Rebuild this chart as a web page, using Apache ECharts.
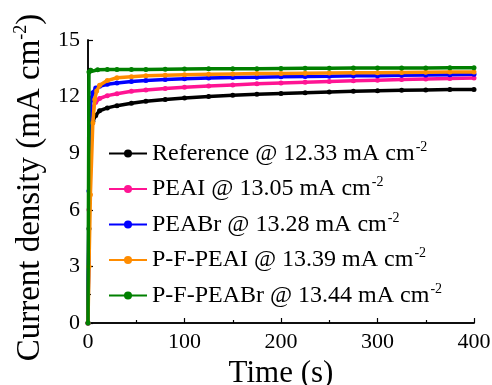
<!DOCTYPE html>
<html><head><meta charset="utf-8">
<script src="https://cdn.jsdelivr.net/npm/echarts@6/dist/echarts.min.js"></script>
<style>html,body{margin:0;padding:0;background:#fff}#c{width:492px;height:385px}</style>
</head><body><div id="c"></div>
<script>
const seriesNames = ['Reference @ 12.33 mA cm', 'PEAI @ 13.05 mA cm', 'PEABr @ 13.28 mA cm', 'P-F-PEAI @ 13.39 mA cm', 'P-F-PEABr @ 13.44 mA cm'];
const colors = ['#000000', '#ff1493', '#0000ff', '#ff8c00', '#008000'];
const xTicks = [0, 100, 200, 300, 400];
const yTicks = [0, 3, 6, 9, 12, 15];

const refT = [0, 1, 2, 3, 5, 8, 12, 20, 30, 45, 60, 80, 100, 125, 150, 175, 200, 225, 250, 275, 300, 325, 350, 375, 400];
const refV = [0, 5, 9.6, 10.3, 10.7, 11.0, 11.25, 11.4, 11.52, 11.65, 11.75, 11.85, 11.93, 12.0, 12.07, 12.12, 12.17, 12.21, 12.25, 12.28, 12.31, 12.33, 12.35, 12.37, 12.38];
const peaiT = [0, 1, 2, 3, 5, 8, 12, 20, 30, 45, 60, 80, 100, 125, 150, 175, 200, 225, 250, 275, 300, 325, 350, 375, 400];
const peaiV = [0, 6, 10.5, 11.0, 11.4, 11.7, 11.9, 12.05, 12.15, 12.28, 12.35, 12.43, 12.5, 12.56, 12.62, 12.68, 12.72, 12.76, 12.8, 12.84, 12.87, 12.9, 12.93, 12.96, 12.98];
const peabrT = [0, 1, 2, 3, 5, 8, 12, 20, 30, 45, 60, 80, 100, 125, 150, 175, 200, 225, 250, 275, 300, 325, 350, 375, 400];
const peabrV = [0, 7, 11.0, 11.8, 12.2, 12.45, 12.55, 12.65, 12.72, 12.8, 12.85, 12.9, 12.94, 12.98, 13.01, 13.03, 13.05, 13.07, 13.08, 13.1, 13.11, 13.13, 13.14, 13.16, 13.18];
const pfpeaiT = [0, 1, 2.5, 5, 7, 9, 12, 20, 30, 45, 60, 80, 100, 125, 150, 175, 200, 225, 250, 275, 300, 325, 350, 375, 400];
const pfpeaiV = [0, 3, 6.8, 10.6, 11.85, 12.3, 12.6, 12.85, 13.0, 13.05, 13.1, 13.13, 13.16, 13.18, 13.2, 13.22, 13.23, 13.24, 13.25, 13.26, 13.27, 13.28, 13.29, 13.3, 13.3];
const pfpeabrT = [0, 1, 3, 10, 20, 30, 45, 60, 80, 100, 125, 150, 175, 200, 225, 250, 275, 300, 325, 350, 375, 400];
const pfpeabrV = [0, 13.3, 13.4, 13.42, 13.43, 13.43, 13.44, 13.44, 13.45, 13.46, 13.47, 13.47, 13.48, 13.49, 13.5, 13.5, 13.51, 13.51, 13.52, 13.52, 13.53, 13.53];

const allT = [refT, peaiT, peabrT, pfpeaiT, pfpeabrT];
const allV = [refV, peaiV, peabrV, pfpeaiV, pfpeabrV];

const FONT = '"Liberation Serif", "Times New Roman", serif';
const chart = echarts.init(document.getElementById('c'));
const series = seriesNames.map((n, i) => ({
  name: n, type: 'line', z: 2 + i,
  data: allT[i].map((t, k) => [t, allV[i][k]]),
  symbol: 'circle', symbolSize: 5, showSymbol: true,
  lineStyle: { color: colors[i], width: 3.5 },
  itemStyle: { color: colors[i], borderColor: colors[i], borderWidth: 0 }
}));
const axisCommon = {
  axisLine: { show: true, onZero: false, lineStyle: { color: '#000', width: 1.5 } },
  splitLine: { show: false },
  axisTick: { show: true, inside: true, length: 5, lineStyle: { color: '#000', width: 1.2 } },
  minorTick: { show: true, splitNumber: 2, length: 3, lineStyle: { color: '#000', width: 1.2 } },
  axisLabel: { color: '#000', fontFamily: FONT, fontSize: 22 }
};
chart.setOption({
  animation: false,
  grid: { left: 88, right: 18, top: 40, bottom: 62, containLabel: false, outerBoundsMode: 'none' },
  legend: {
    orient: 'vertical', left: 103, top: 135, itemGap: 10,
    itemWidth: 38, itemHeight: 10,
    data: seriesNames,
    formatter: n => '{a|' + n + '}{s|-2}',
    textStyle: {
      color: '#000', fontFamily: FONT, fontSize: 24,
      rich: { a: { fontFamily: FONT, fontSize: 24, color: '#000', lineHeight: 26 },
              s: { fontFamily: FONT, fontSize: 14, color: '#000', padding: [0, 0, 13, 1] } }
    }
  },
  xAxis: [Object.assign({}, axisCommon, {
    type: 'value', min: 0, max: 400, interval: 100,
    name: 'Time (s)', nameLocation: 'middle', nameGap: 34,
    nameTextStyle: { color: '#000', fontFamily: FONT, fontSize: 31 },
    axisLabel: Object.assign({}, axisCommon.axisLabel, { margin: 8, formatter: v => xTicks.includes(v) ? String(v) : '' })
  }), {
    type: 'value', position: 'top', min: 0, max: 400, gridIndex: 0,
    axisLine: { show: true, lineStyle: { color: '#000', width: 1.5 } },
    axisTick: { show: false }, axisLabel: { show: false }, splitLine: { show: false }
  }],
  yAxis: [Object.assign({}, axisCommon, {
    type: 'value', min: 0, max: 15, interval: 3,
    name: '{a|Current density (mA cm}{s|-2}{a|)}', nameLocation: 'middle', nameGap: 38, nameRotate: 90,
    nameTextStyle: { color: '#000', fontFamily: FONT, fontSize: 33, padding: [0, 12, 0, 0],
      rich: { a: { fontFamily: FONT, fontSize: 33, color: '#000' },
              s: { fontFamily: FONT, fontSize: 18, color: '#000', padding: [0, 0, 18, 0] } } },
    axisLabel: Object.assign({}, axisCommon.axisLabel, { margin: 8, formatter: v => yTicks.includes(v) ? String(v) : '' })
  }), {
    type: 'value', position: 'right', min: 0, max: 15,
    axisLine: { show: true, lineStyle: { color: '#000', width: 1.5 } },
    axisTick: { show: false }, axisLabel: { show: false }, splitLine: { show: false }
  }],
  series: series
});
</script></body></html>
